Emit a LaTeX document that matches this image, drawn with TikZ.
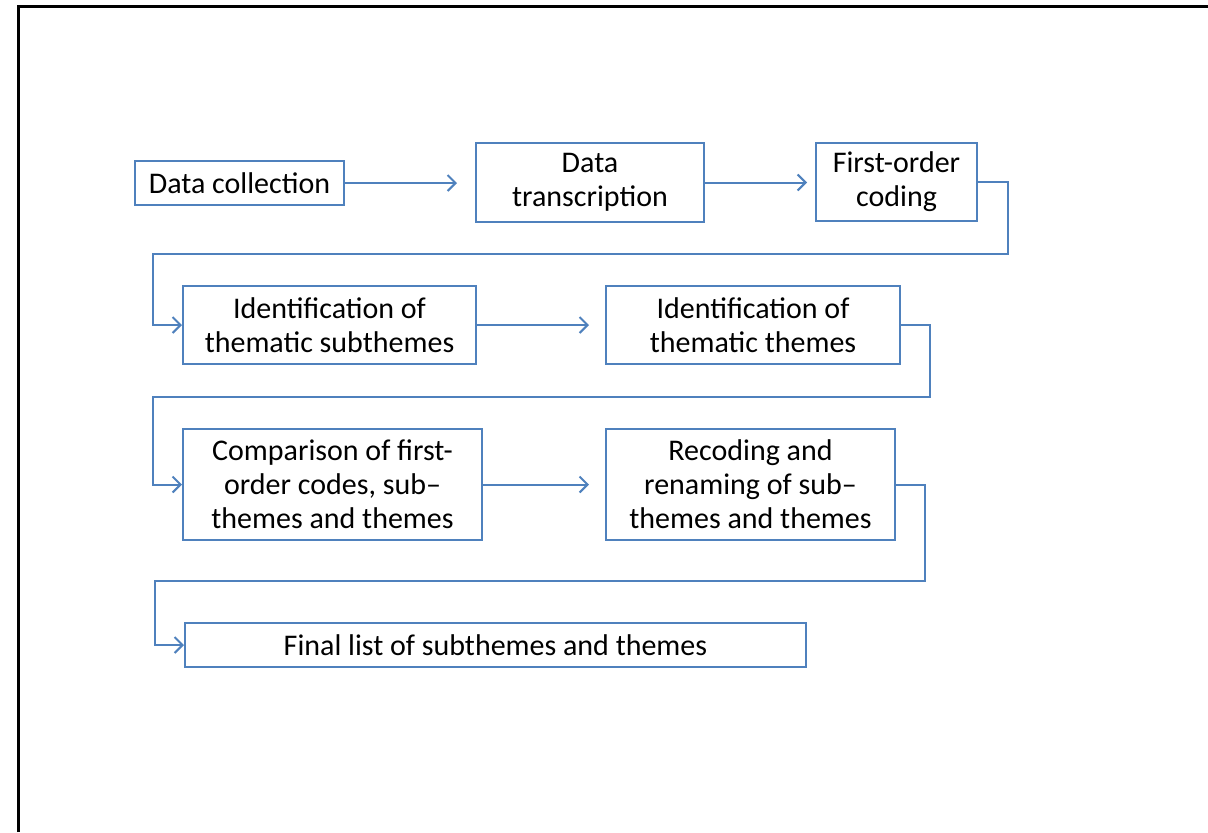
\documentclass[tikz,border=0pt]{standalone}
\usepackage{fontspec}
\setmainfont{Carlito}
\usetikzlibrary{arrows.meta}
\definecolor{flowblue}{RGB}{79,129,189}

\begin{document}
\begin{tikzpicture}[x=0.5pt, y=-0.5pt, >={Straight Barb[length=4pt,width=8pt]},
	line join=miter, font=\fontsize{15}{17}\selectfont,
	stepbox/.style={draw=flowblue, line width=1pt, inner sep=0pt, align=center},
	flow/.style={draw=flowblue, line width=1pt, ->}]
	
	\useasboundingbox (0,0) rectangle (1208,832);
	
	% ===== outer frame =====
	\draw[line width=1.5pt] (18,832) -- (18,6) -- (1208,6);
	
	% ===== first row =====
	\node[stepbox, minimum width=104.5pt, minimum height=22pt] (collect) at (239.5,183) {Data collection};
	\node[stepbox, minimum width=114pt, minimum height=39.5pt] (transcr) at (590,182.5) {Data\\transcription};
	\node[stepbox, minimum width=80.5pt, minimum height=39pt] (firstord) at (896.5,182) {First-order\\coding};
	
	% ===== second row =====
	\node[stepbox, minimum width=146.5pt, minimum height=39pt] (subthm) at (329.5,325) {Identification of\\thematic subthemes};
	\node[stepbox, minimum width=147pt, minimum height=39pt] (themes) at (753,325) {Identification of\\thematic themes};
	
	% ===== third row =====
	\node[stepbox, minimum width=149.5pt, minimum height=55.5pt] (compare) at (332.5,484.5) {Comparison of first-\\order codes, sub–\\themes and themes};
	\node[stepbox, minimum width=144.5pt, minimum height=55.5pt] (recode) at (750.5,484.5) {Recoding and\\renaming of sub–\\themes and themes};
	
	% ===== last row =====
	\node[stepbox, minimum width=310.5pt, minimum height=22pt] (final) at (495.5,645) {Final list of subthemes and themes};
	
	% straight arrows (they stop short of the next box)
	\draw[flow, shorten >=9pt] (collect.east) -- (collect.east -| transcr.west);
	\draw[flow, shorten >=4pt] (transcr.east) -- (transcr.east -| firstord.west);
	\draw[flow, shorten >=8pt] (subthm.east) -- (themes.west);
	\draw[flow, shorten >=8pt] (compare.east) -- (recode.west);
	
	% elbow arrows down to the next row
	\draw[flow] (firstord.east) -- (1008,182) |- (153,254) |- (subthm.west);
	\draw[flow] (themes.east) -- (930,325) |- (153,397) |- (compare.west);
	\draw[flow] (recode.east) -- (925,484.5) |- (155,581) |- (final.west);
	
\end{tikzpicture}
\end{document}
